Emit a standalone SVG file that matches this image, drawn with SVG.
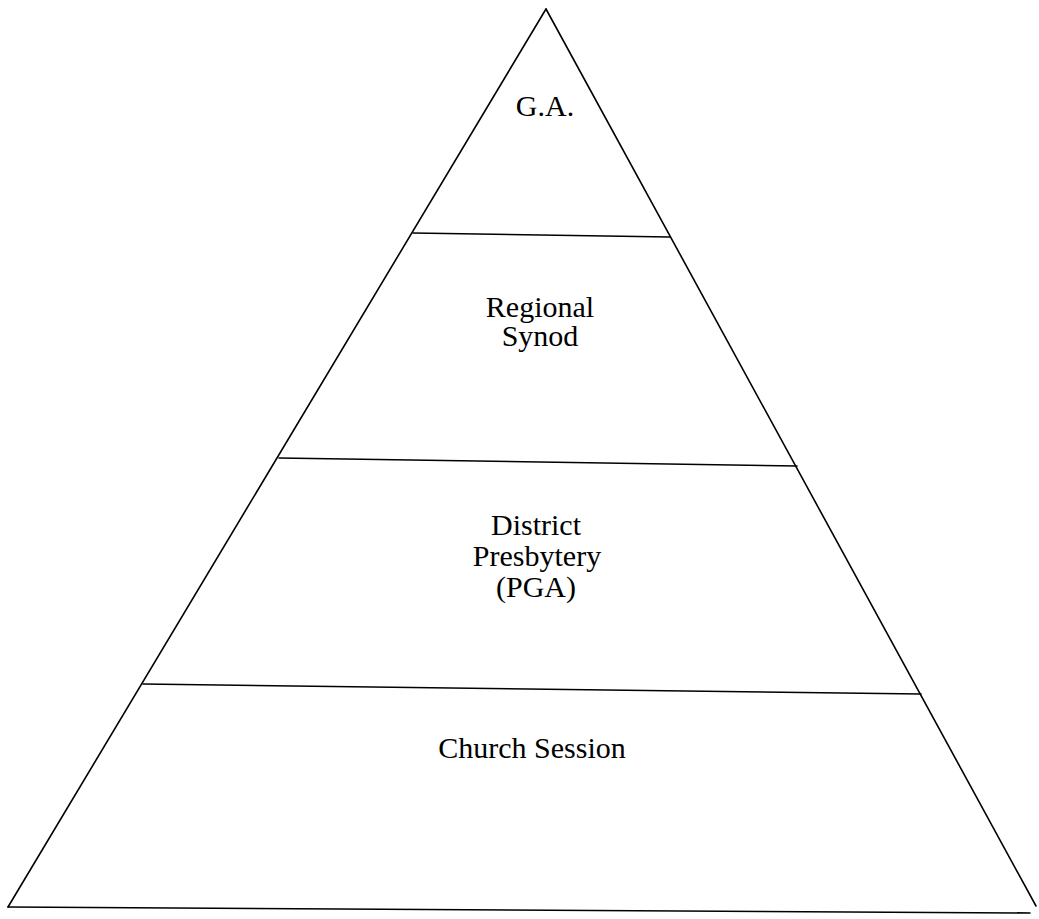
<svg xmlns="http://www.w3.org/2000/svg" width="1039" height="919" viewBox="0 0 1039 919">
<style>
.ln{stroke:#000;stroke-width:1.6;fill:none;stroke-linecap:round}
text{font-family:'Liberation Serif','DejaVu Serif',serif;font-size:30px;fill:#000;text-anchor:middle}
</style>
<rect width="1039" height="919" fill="#fff"/>
<g id="connectors">
<path class="ln" d="M546,9 L8,907"/>
<path class="ln" d="M546,9 L1036,906"/>
<path class="ln" d="M8,907 L1030,913"/>
<path class="ln" d="M413,233 L670,237"/>
<path class="ln" d="M279,458 L797,466"/>
<path class="ln" d="M143,684 L921,694"/>
</g>
<g id="ga"><text x="545" y="116">G.A.</text></g>
<g id="synod"><text x="540" y="317">Regional</text><text x="540" y="346">Synod</text></g>
<g id="presbytery"><text x="536" y="535">District</text><text x="537" y="566">Presbytery</text><text x="536" y="597">(PGA)</text></g>
<g id="session"><text x="532" y="758">Church Session</text></g>
</svg>
